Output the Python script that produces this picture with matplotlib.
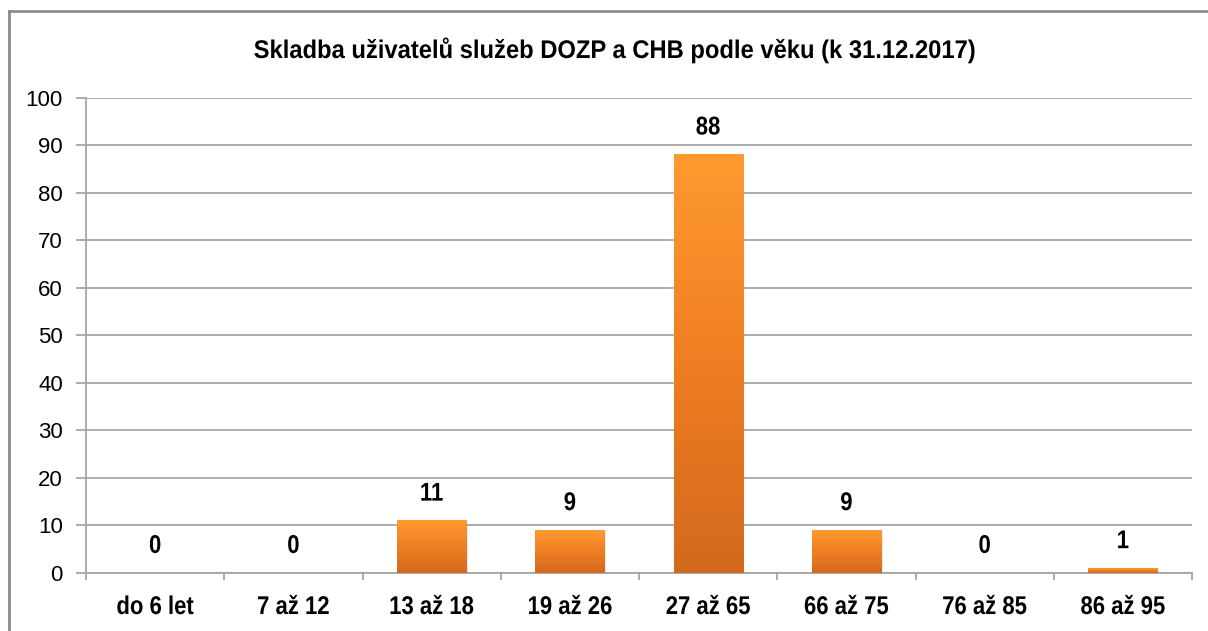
import matplotlib
matplotlib.use("Agg")
import matplotlib.pyplot as plt
import numpy as np
from matplotlib.colors import LinearSegmentedColormap
from matplotlib.lines import Line2D
from matplotlib.patheffects import AbstractPathEffect
from matplotlib.transforms import Affine2D

categories = ["do 6 let", "7 až 12", "13 až 18", "19 až 26", "27 až 65", "66 až 75", "76 až 85", "86 až 95"]
values = [0, 0, 11, 9, 88, 9, 0, 1]
title = "Skladba uživatelů služeb DOZP a CHB podle věku (k 31.12.2017)"

font = ["Liberation Sans", "DejaVu Sans"]


class Condense(AbstractPathEffect):
    def __init__(self, sx):
        super().__init__()
        self.sx = sx

    def draw_path(self, renderer, gc, tpath, affine, rgbFace=None):
        ext = tpath.get_extents()
        cx = (ext.x0 + ext.x1) / 2
        t = Affine2D().translate(-cx, 0).scale(self.sx, 1).translate(cx, 0) + affine
        renderer.draw_path(gc, tpath, t, rgbFace)


fig = plt.figure(figsize=(12.08, 6.31), dpi=100)
ax = fig.add_axes([86/1208, 1-573/631, (1192-86)/1208, (573-97.5)/631])

x = np.arange(len(categories))
bars = ax.bar(x, values, width=0.5, color="none", zorder=3)

cmap = LinearSegmentedColormap.from_list("og", ["#d3691e", "#ef7e22", "#ff9a30"])
grad = np.linspace(0, 1, 256).reshape(-1, 1)
for b in bars:
    h = b.get_height()
    if h <= 0:
        continue
    x0 = b.get_x(); w = b.get_width()
    ax.imshow(grad, cmap=cmap, origin="lower", aspect="auto",
              extent=[x0, x0 + w, 0, h], zorder=3)
    ax.add_patch(plt.Rectangle((x0 + w, 0), 0.012, h, color="#000000", alpha=0.07, zorder=2, lw=0))

for xi, v in zip(x, values):
    ax.annotate(str(v), (xi, v), xytext=(0, 19.5), textcoords="offset points",
                ha="center", va="center", fontsize=18.5, fontweight="bold", family=font,
                color="#000000", path_effects=[Condense(0.86)])

ax.set_xlim(-0.5, len(categories) - 0.5)
ax.set_ylim(0, 100)
ax.set_yticks(np.arange(0, 101, 10))
ax.yaxis.grid(True, color="#a6a6a6", linewidth=1.3, zorder=0)
ax.set_axisbelow(True)

ax.set_xticks(np.arange(-0.5, len(categories), 1.0))
ax.set_xticklabels([])
for xi, c in zip(x, categories):
    ax.annotate(c, (xi, 0), xycoords=("data", "axes fraction"), xytext=(0, -24.5),
                textcoords="offset points", ha="center", va="center", fontsize=18.5,
                fontweight="bold", family=font, path_effects=[Condense(0.86)],
                annotation_clip=False)
ax.tick_params(axis="x", which="major", length=5, width=1.3, color="#a6a6a6")
ax.tick_params(axis="y", length=7.2, width=1.3, color="#a6a6a6", pad=9.5, labelsize=16)
for lab in ax.get_yticklabels():
    lab.set_family(font)

for s in ["top", "right"]:
    ax.spines[s].set_visible(False)
for s in ["left", "bottom"]:
    ax.spines[s].set_color("#a6a6a6")
    ax.spines[s].set_linewidth(1.3)

fig.text(614/1208, 1-50/631, title, ha="center", va="center", fontsize=18.4,
         fontweight="bold", family=font, path_effects=[Condense(0.93)])

# outer frame
fig.add_artist(Line2D([9/1208, 9/1208], [0, 1-11/631], transform=fig.transFigure, color="#8c8c8c", lw=2))
fig.add_artist(Line2D([9/1208, 1], [1-11/631, 1-11/631], transform=fig.transFigure, color="#8c8c8c", lw=2))

fig.savefig("out.png", dpi=100)
